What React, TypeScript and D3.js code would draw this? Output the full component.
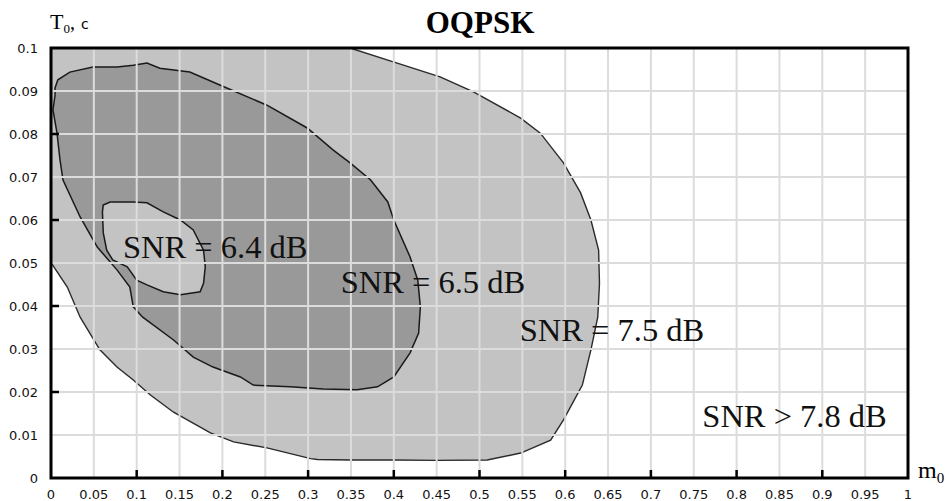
import React from "react";
import * as d3 from "d3";

const W = 949;
const H = 501;

// X and Y tick values
const xTicks = [0, 0.05, 0.1, 0.15, 0.2, 0.25, 0.3, 0.35, 0.4, 0.45, 0.5, 0.55, 0.6, 0.65, 0.7, 0.75, 0.8, 0.85, 0.9, 0.95, 1];
const xTickLabels = ["0", "0.05", "0.1", "0.15", "0.2", "0.25", "0.3", "0.35", "0.4", "0.45", "0.5", "0.55", "0.6", "0.65", "0.7", "0.75", "0.8", "0.85", "0.9", "0.95", "1"];
const yTicks = [0, 0.01, 0.02, 0.03, 0.04, 0.05, 0.06, 0.07, 0.08, 0.09, 0.1];
const yTickLabels = ["0", "0.01", "0.02", "0.03", "0.04", "0.05", "0.06", "0.07", "0.08", "0.09", "0.1"];
const xMajorTicks = [0.1, 0.2, 0.3, 0.4, 0.5, 0.6, 0.7, 0.8, 0.9];
const yMajorTicks = [0.02, 0.04, 0.06, 0.08];

// Contour SNR = 7.5 dB (boundary of light region), curve part
const contour75: [number, number][] = [
  [0.349, 0.1], [0.404, 0.0965], [0.454, 0.0933], [0.493, 0.0898], [0.548, 0.0837],
  [0.571, 0.0802], [0.598, 0.0733], [0.618, 0.0663], [0.630, 0.060], [0.639, 0.053],
  [0.640, 0.0453], [0.638, 0.0374], [0.630, 0.0298], [0.620, 0.0216], [0.598, 0.0135],
  [0.583, 0.0088], [0.548, 0.0058], [0.509, 0.0042], [0.45, 0.0041], [0.40, 0.0042],
  [0.35, 0.0042], [0.311, 0.0043], [0.303, 0.0045], [0.252, 0.007], [0.213, 0.0084],
  [0.186, 0.0105], [0.143, 0.0153], [0.116, 0.0193], [0.096, 0.0228], [0.077, 0.0258],
  [0.057, 0.0298], [0.034, 0.0374], [0.019, 0.0444], [0.002, 0.0495], [0, 0.05],
];
// Corner closing the 7.5 dB region along the axes
const contour75Corner: [number, number][] = [[0, 0.1]];

// Contour SNR = 6.5 dB (dark region)
const contour65: [number, number][] = [
  [0.0047, 0.0907], [0.008, 0.0926], [0.022, 0.0944], [0.049, 0.0956], [0.077, 0.0956],
  [0.096, 0.096], [0.112, 0.0965], [0.127, 0.0953], [0.162, 0.0944], [0.197, 0.0914],
  [0.252, 0.0867], [0.299, 0.0814], [0.329, 0.0763], [0.349, 0.0733], [0.373, 0.0693],
  [0.393, 0.0642], [0.400, 0.060], [0.419, 0.0514], [0.428, 0.046], [0.431, 0.0398],
  [0.429, 0.0337], [0.419, 0.0291], [0.400, 0.0235], [0.381, 0.0212], [0.357, 0.0205],
  [0.318, 0.0207], [0.279, 0.0212], [0.236, 0.0216], [0.221, 0.0235], [0.189, 0.0258],
  [0.166, 0.0281], [0.143, 0.0321], [0.107, 0.0374], [0.096, 0.0398], [0.092, 0.0444],
  [0.077, 0.0484], [0.054, 0.0537], [0.034, 0.0607], [0.014, 0.0693], [0.0105, 0.074],
  [0.007, 0.0802], [0.0023, 0.0856], [0.0047, 0.089],
];

// Contour SNR = 6.4 dB (inner light region)
const contour64: [number, number][] = [
  [0.061, 0.0635], [0.069, 0.0642], [0.096, 0.0642], [0.112, 0.064], [0.131, 0.0619],
  [0.151, 0.060], [0.166, 0.0577], [0.178, 0.053], [0.180, 0.0491], [0.178, 0.0453],
  [0.174, 0.0433], [0.151, 0.0426], [0.131, 0.0433], [0.112, 0.0449], [0.100, 0.046],
  [0.089, 0.0491], [0.072, 0.0507], [0.065, 0.053], [0.061, 0.057], [0.060, 0.0619],
];

// Region labels: [text, m0, T0]
const labelTexts = ["SNR = 6.4 dB", "SNR = 6.5 dB", "SNR = 7.5 dB", "SNR > 7.8 dB"];
const labelX = [0.084, 0.338, 0.547, 0.760];
const labelY = [0.0512, 0.0430, 0.0319, 0.0119];

const title = "OQPSK";

export default function App() {
  const x = d3.scaleLinear().domain([0, 1]).range([51, 908]);
  const y = d3.scaleLinear().domain([0, 0.1]).range([478, 48]);

  const line = d3
    .line<[number, number]>()
    .x((d) => x(d[0]))
    .y((d) => y(d[1]));
  const closedLine = d3
    .line<[number, number]>()
    .x((d) => x(d[0]))
    .y((d) => y(d[1]))
    .curve(d3.curveLinearClosed);

  const outerFill = closedLine([...contour75Corner, ...contour75]) || "";
  const outerStroke = line(contour75) || "";
  const midPath = closedLine(contour65) || "";
  const innerPath = closedLine(contour64) || "";

  const x0 = x(0), x1 = x(1), y0 = y(0), y1 = y(0.1);

  const serif = "'Liberation Serif', 'Times New Roman', serif";
  const tickFont = "'DejaVu Sans', sans-serif";

  return (
    <svg width={W} height={H} style={{ position: "absolute", left: 0, top: 0, background: "#fff" }}>
      <defs>
        <clipPath id="plot">
          <rect x={x0} y={y1} width={x1 - x0} height={y0 - y1} />
        </clipPath>
      </defs>
      <rect x={0} y={0} width={W} height={H} fill="#fff" />
      <g clipPath="url(#plot)">
        <path d={outerFill} fill="#c3c3c3" />
        <path d={midPath} fill="#999999" />
        <path d={innerPath} fill="#c3c3c3" />
        <path d={outerStroke} fill="none" stroke="#2a2a2a" strokeWidth={1.4} />
        <path d={midPath} fill="none" stroke="#1a1a1a" strokeWidth={1.5} />
        <path d={innerPath} fill="none" stroke="#1a1a1a" strokeWidth={1.5} />
        {xTicks.slice(1, -1).map((t) => (
          <line key={"gx" + t} x1={x(t)} x2={x(t)} y1={y1} y2={y0} stroke="#dcdcdc" strokeWidth={2} />
        ))}
        {yTicks.slice(1, -1).map((t) => (
          <line key={"gy" + t} x1={x0} x2={x1} y1={y(t)} y2={y(t)} stroke="#dcdcdc" strokeWidth={2} />
        ))}
      </g>
      {/* frame */}
      <rect x={x0} y={y1} width={x1 - x0} height={y0 - y1} fill="none" stroke="#000" strokeWidth={3} />
      {/* major ticks */}
      {xMajorTicks.map((t) => (
        <line key={"tx" + t} x1={x(t)} x2={x(t)} y1={y0} y2={y0 - 8} stroke="#000" strokeWidth={2.5} />
      ))}
      {yMajorTicks.map((t) => (
        <line key={"ty" + t} x1={x0} x2={x0 + 8} y1={y(t)} y2={y(t)} stroke="#000" strokeWidth={2.5} />
      ))}
      {/* tick labels */}
      {xTicks.map((t, i) => (
        <text key={"lx" + t} x={x(t)} y={499} textAnchor="middle" fontFamily={tickFont} fontSize={13} fill="#111">
          {xTickLabels[i]}
        </text>
      ))}
      {yTicks.map((t, i) => (
        <text key={"ly" + t} x={38} y={y(t) + 5} textAnchor="end" fontFamily={tickFont} fontSize={13} fill="#111">
          {yTickLabels[i]}
        </text>
      ))}
      {/* axis titles */}
      <text x={50} y={29} fontFamily={serif} fontSize={22} fill="#000">
        T
        <tspan fontSize={13} dy={4}>0</tspan>
        <tspan dy={-4} fontSize={20}>,</tspan>
        <tspan fontFamily={tickFont} fontSize={14} dx={6}>c</tspan>
      </text>
      <text x={918} y={478} fontFamily={serif} fontSize={24} fill="#000">
        m
        <tspan fontSize={15} dy={5}>0</tspan>
      </text>
      {/* title */}
      <text x={480} y={33} textAnchor="middle" fontFamily={serif} fontWeight="bold" fontSize={31} fill="#000">
        {title}
      </text>
      {/* region labels */}
      {labelTexts.map((s, i) => (
        <text key={s} x={x(labelX[i])} y={y(labelY[i])} fontFamily={serif} fontSize={32.5} fill="#111">
          {s}
        </text>
      ))}
    </svg>
  );
}
